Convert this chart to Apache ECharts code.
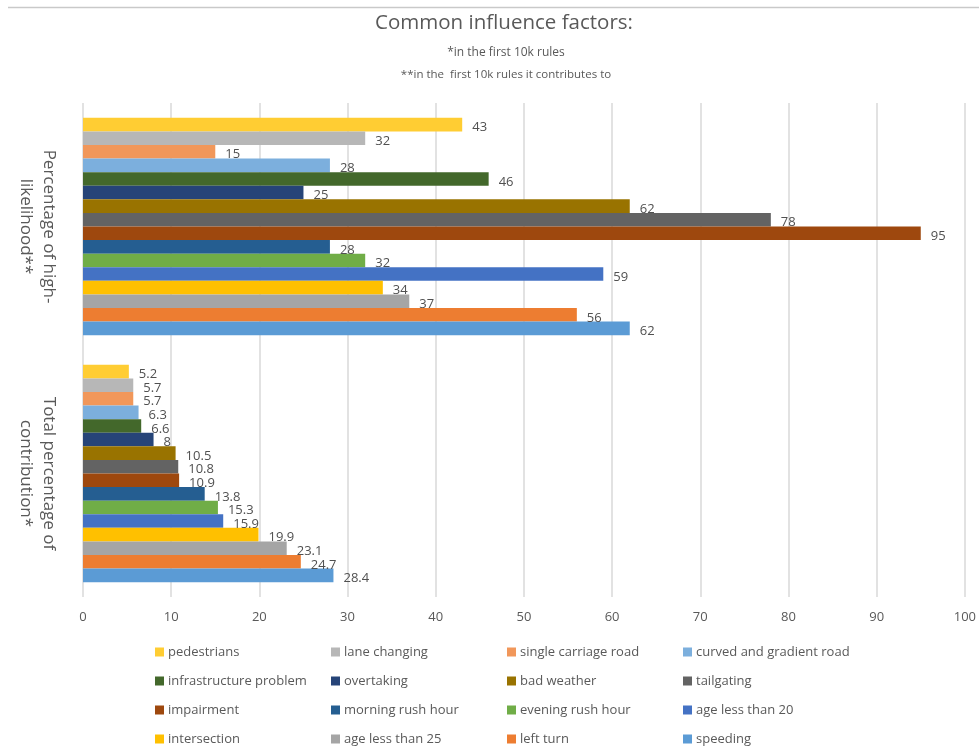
<!DOCTYPE html>
<html>
<head>
<meta charset="utf-8">
<script src="https://cdn.jsdelivr.net/npm/echarts@6/dist/echarts.min.js"></script>
<style>
  html, body { margin: 0; padding: 0; background: #ffffff; }
  #chart { width: 979px; height: 751px; }
</style>
</head>
<body>
<div id="chart"></div>
<script>
// Category groups (bottom to top on the y axis)
const categories = ['Total percentage of\ncontribution*', 'Percentage of high-\nlikelihood**'];

// Legend order (reading left to right, top to bottom)
const factorNames = [
  'pedestrians', 'lane changing', 'single carriage road', 'curved and gradient road',
  'infrastructure problem', 'overtaking', 'bad weather', 'tailgating',
  'impairment', 'morning rush hour', 'evening rush hour', 'age less than 20',
  'intersection', 'age less than 25', 'left turn', 'speeding'
];

const factorColors = [
  '#FFCD33', '#B7B7B7', '#F1975A', '#7CAFDD',
  '#43682B', '#264478', '#997300', '#636363',
  '#9E480E', '#255E91', '#70AD47', '#4472C4',
  '#FFC000', '#A5A5A5', '#ED7D31', '#5B9BD5'
];

// Values per factor, same order as factorNames
const totalContribution = [5.2, 5.7, 5.7, 6.3, 6.6, 8, 10.5, 10.8, 10.9, 13.8, 15.3, 15.9, 19.9, 23.1, 24.7, 28.4];
const highLikelihood    = [43, 32, 15, 28, 46, 25, 62, 78, 95, 28, 32, 59, 34, 37, 56, 62];

const xTicks = { min: 0, max: 100, interval: 10 };

const textColor = '#595959';
const fontFamily = '"Open Sans", "Liberation Sans", sans-serif';

// One bar series per factor; the first one sits at the top of each group
const series = factorNames.map((name, i) => ({
  name: name,
  type: 'bar',
  data: [totalContribution[i], highLikelihood[i]],
  itemStyle: { color: factorColors[i] },
  barGap: '0%',
  barCategoryGap: '12%',
  label: {
    show: true,
    position: 'right',
    distance: 10,
    offset: [0, 3],
    color: '#505050',
    fontSize: 13,
    fontFamily: fontFamily
  },
  emphasis: { disabled: true }
}));

// Legend laid out as four columns of four entries
const columnLefts = [155, 331, 507, 683];
const legends = columnLefts.map((left, c) => ({
  orient: 'vertical',
  left: left,
  top: 644,
  height: 120,
  padding: 0,
  itemWidth: 9,
  itemHeight: 9,
  itemGap: 13,
  icon: 'rect',
  selectedMode: false,
  data: [0, 1, 2, 3].map(r => factorNames[r * 4 + c]),
  textStyle: { color: textColor, fontSize: 13, fontFamily: fontFamily, lineHeight: 16, padding: [0, 0, 0, -1] }
}));

const chart = echarts.init(document.getElementById('chart'), null, { renderer: 'canvas' });
chart.setOption({
  backgroundColor: '#ffffff',
  animation: false,
  title: [
    {
      text: 'Common influence factors:',
      left: 499,
      textAlign: 'center',
      top: 8,
      textStyle: { color: textColor, fontSize: 20.5, fontWeight: 'normal', fontFamily: fontFamily }
    },
    {
      text: '*in the first 10k rules',
      left: 501,
      textAlign: 'center',
      top: 42,
      textStyle: { color: textColor, fontSize: 12, fontWeight: 'normal', fontFamily: fontFamily }
    },
    {
      text: '**in the  first 10k rules it contributes to',
      left: 501,
      textAlign: 'center',
      top: 64,
      textStyle: { color: textColor, fontSize: 11.5, fontWeight: 'normal', fontFamily: fontFamily }
    }
  ],
  graphic: [{
    type: 'line',
    shape: { x1: 8, y1: 7.5, x2: 979, y2: 7.5 },
    style: { stroke: '#c9c9c9', lineWidth: 1.5 },
    silent: true
  }],
  legend: legends,
  grid: { left: 83, right: 14, top: 103, bottom: 154, containLabel: false },
  xAxis: {
    type: 'value',
    min: xTicks.min,
    max: xTicks.max,
    interval: xTicks.interval,
    axisLine: { show: false },
    axisTick: { show: false },
    axisLabel: { color: textColor, fontSize: 13, fontFamily: fontFamily, margin: 14 },
    splitLine: { show: true, lineStyle: { color: '#d9d9d9', width: 1.5 } }
  },
  yAxis: {
    type: 'category',
    data: categories,
    axisLine: { show: false },
    axisTick: { show: false },
    axisLabel: {
      rotate: -90,
      color: textColor,
      fontSize: 17,
      fontFamily: fontFamily,
      align: 'center',
      verticalAlign: 'top',
      lineHeight: 23,
      margin: 23
    }
  },
  series: series
});
</script>
</body>
</html>
